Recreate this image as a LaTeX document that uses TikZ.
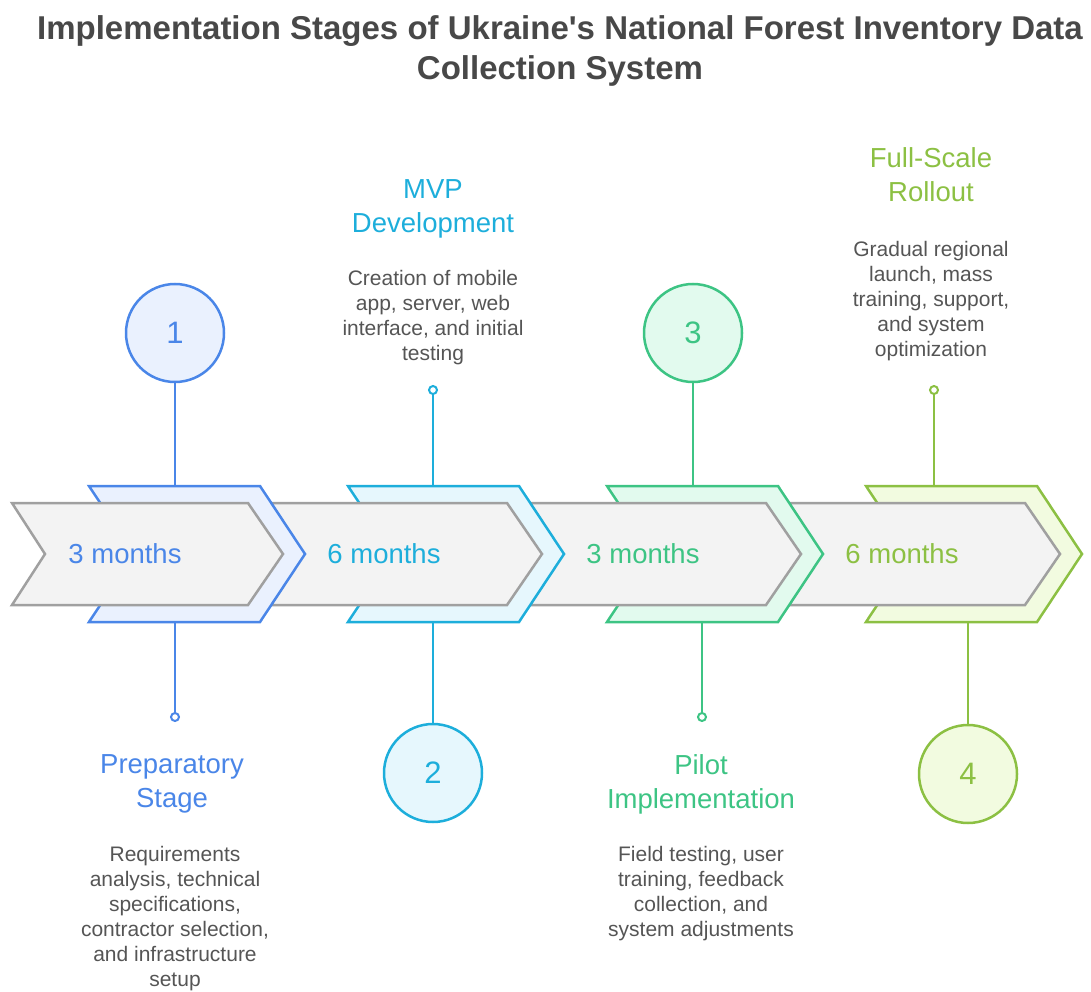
\documentclass[tikz,border=0pt]{standalone}
\usepackage{fontspec}
\setmainfont{Liberation Sans}
\usepackage{tikz}
\usetikzlibrary{shapes,positioning}

\definecolor{stageblue}{RGB}{74,134,232}
\definecolor{stagebluefill}{RGB}{234,241,254}
\definecolor{stagecyan}{RGB}{29,174,219}
\definecolor{stagecyanfill}{RGB}{230,247,253}
\definecolor{stagegreen}{RGB}{61,196,132}
\definecolor{stagegreenfill}{RGB}{226,250,238}
\definecolor{stagelime}{RGB}{140,192,67}
\definecolor{stagelimefill}{RGB}{242,251,224}
\definecolor{chevgrey}{RGB}{160,160,160}
\definecolor{chevfill}{RGB}{243,243,243}
\definecolor{titlegrey}{RGB}{72,72,72}
\definecolor{descgrey}{RGB}{85,85,85}

\begin{document}
\begin{tikzpicture}[x=1pt,y=1pt]

\tikzstyle{backchev} = [line width=2.5pt, line join=miter]
\tikzstyle{greychev} = [line width=2.5pt, draw=chevgrey, fill=chevfill, line join=miter]
\tikzstyle{numcircle} = [circle, minimum size=98pt, inner sep=0pt, line width=2.5pt, font=\fontsize{31}{31}\selectfont]
\tikzstyle{pindot} = [circle, minimum size=8pt, inner sep=0pt, line width=2pt, fill=white]
\tikzstyle{stagetitle} = [align=center, font=\fontsize{27.5}{34}\selectfont]
\tikzstyle{stagetext} = [align=center, text=descgrey, font=\fontsize{21}{25}\selectfont]
\tikzstyle{months} = [font=\fontsize{27.5}{27.5}\selectfont]

\useasboundingbox (0,0) rectangle (1091,-992);

%Title: top

\node (title) [align=center, text=titlegrey, font=\fontsize{33}{40}\selectfont\bfseries] at (560,-51)
  {Implementation Stages of Ukraine\textquotesingle s National Forest Inventory Data\\Collection System};

%Chevrons, drawn from the right so that each one lies over the next

\path[backchev, draw=stagelime, fill=stagelimefill, xshift=777pt] (89,-486) -- (260,-486) -- (305,-554) -- (260,-622) -- (89,-622) -- (134,-554) -- cycle;
\path[greychev, xshift=777pt] (12,-503) -- (248,-503) -- (283,-554) -- (248,-605) -- (12,-605) -- (45,-554) -- cycle;

\path[backchev, draw=stagegreen, fill=stagegreenfill, xshift=518pt] (89,-486) -- (260,-486) -- (305,-554) -- (260,-622) -- (89,-622) -- (134,-554) -- cycle;
\path[greychev, xshift=518pt] (12,-503) -- (248,-503) -- (283,-554) -- (248,-605) -- (12,-605) -- (45,-554) -- cycle;

\path[backchev, draw=stagecyan, fill=stagecyanfill, xshift=259pt] (89,-486) -- (260,-486) -- (305,-554) -- (260,-622) -- (89,-622) -- (134,-554) -- cycle;
\path[greychev, xshift=259pt] (12,-503) -- (248,-503) -- (283,-554) -- (248,-605) -- (12,-605) -- (45,-554) -- cycle;

\path[backchev, draw=stageblue, fill=stagebluefill] (89,-486) -- (260,-486) -- (305,-554) -- (260,-622) -- (89,-622) -- (134,-554) -- cycle;
\path[greychev] (12,-503) -- (248,-503) -- (283,-554) -- (248,-605) -- (12,-605) -- (45,-554) -- cycle;

\node (months_1) [months, text=stageblue] at (125,-554) {3 months};
\node (months_2) [months, text=stagecyan] at (384,-554) {6 months};
\node (months_3) [months, text=stagegreen] at (643,-554) {3 months};
\node (months_4) [months, text=stagelime] at (902,-554) {6 months};

%Preparatory stage: circle above, text below

\node (circ_1) [numcircle, draw=stageblue, fill=stagebluefill, text=stageblue] at (175,-333) {1};
\coordinate (top_1) at (175,-486);
\coordinate (bot_1) at (175,-622);
\node (dot_1) [pindot, draw=stageblue] at (175,-717) {};

\node (prep_title) [stagetitle, text=stageblue] at (172,-784) {Preparatory\\Stage};
\node (prep_text) [stagetext] at (175,-919) {Requirements\\analysis, technical\\specifications,\\contractor selection,\\and infrastructure\\setup};

%MVP development: text above, circle below

\node (mvp_title) [stagetitle, text=stagecyan] at (433,-209) {MVP\\Development};
\node (mvp_text) [stagetext] at (433,-318) {Creation of mobile\\app, server, web\\interface, and initial\\testing};

\node (dot_2) [pindot, draw=stagecyan] at (433,-390) {};
\coordinate (top_2) at (433,-486);
\coordinate (bot_2) at (433,-622);
\node (circ_2) [numcircle, draw=stagecyan, fill=stagecyanfill, text=stagecyan] at (433,-773) {2};

%Pilot implementation: circle above, text below

\node (circ_3) [numcircle, draw=stagegreen, fill=stagegreenfill, text=stagegreen] at (693,-333) {3};
\coordinate (top_3) at (693,-486);
\coordinate (bot_3) at (702,-622);
\node (dot_3) [pindot, draw=stagegreen] at (702,-717) {};

\node (pilot_title) [stagetitle, text=stagegreen] at (701,-784) {Pilot\\Implementation};
\node (pilot_text) [stagetext] at (701,-894) {Field testing, user\\training, feedback\\collection, and\\system adjustments};

%Full-scale rollout: text above, circle below

\node (full_title) [stagetitle, text=stagelime] at (931,-175) {Full-Scale\\Rollout};
\node (full_text) [stagetext] at (931,-301) {Gradual regional\\launch, mass\\training, support,\\and system\\optimization};

\node (dot_4) [pindot, draw=stagelime] at (934,-390) {};
\coordinate (top_4) at (934,-486);
\coordinate (bot_4) at (968,-622);
\node (circ_4) [numcircle, draw=stagelime, fill=stagelimefill, text=stagelime] at (968,-774) {4};

%Pins

\draw [stageblue, line width=2.5pt] (circ_1.south) -- (top_1);
\draw [stageblue, line width=2.5pt] (bot_1) -- (dot_1.north);

\draw [stagecyan, line width=2.5pt] (dot_2.south) -- (top_2);
\draw [stagecyan, line width=2.5pt] (bot_2) -- (circ_2.north);

\draw [stagegreen, line width=2.5pt] (circ_3.south) -- (top_3);
\draw [stagegreen, line width=2.5pt] (bot_3) -- (dot_3.north);

\draw [stagelime, line width=2.5pt] (dot_4.south) -- (top_4);
\draw [stagelime, line width=2.5pt] (bot_4) -- (circ_4.north);

\end{tikzpicture}
\end{document}
